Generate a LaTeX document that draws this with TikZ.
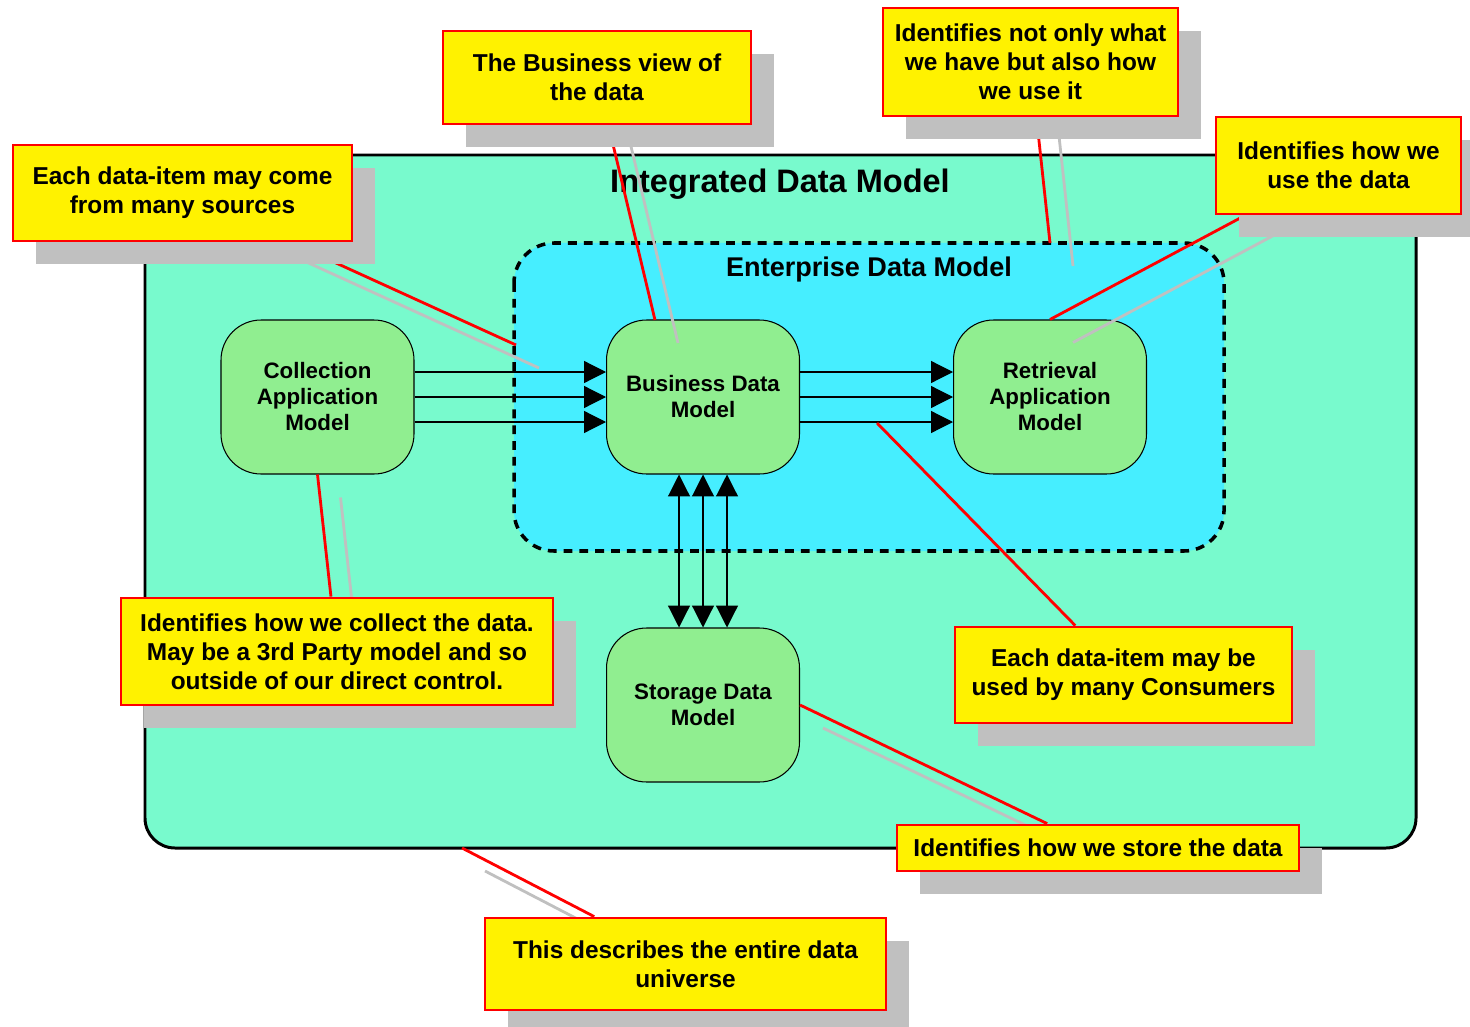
\documentclass[tikz,border=0pt]{standalone}
\usepackage{fontspec}
\setmainfont{Liberation Sans}
\usepackage{tikz}
\usetikzlibrary{arrows.meta,calc,shadows}

\definecolor{universe}{RGB}{120,250,205}
\definecolor{enterprise}{RGB}{70,238,255}
\definecolor{modelgreen}{RGB}{144,238,144}
\definecolor{shadowgray}{RGB}{192,192,192}

\pgfdeclarelayer{back}
\pgfdeclarelayer{front}
\pgfsetlayers{back,main,front}

\begin{document}
\begin{tikzpicture}[x=0.02cm,y=-0.02cm,
  model/.style={draw=black, line width=0.6pt, fill=modelgreen, rounded corners=0.8cm,
    minimum width=3.86cm, minimum height=3.08cm, align=center,
    font=\fontsize{12.7}{14.8}\selectfont\bfseries},
  callout/.style={draw=red, line width=1.6pt, fill=yellow, align=center,
    font=\fontsize{13.9}{16.5}\selectfont\bfseries,
    drop shadow={shadow xshift=0.46cm, shadow yshift=-0.46cm, fill=shadowgray, opacity=1}},
  leader/.style={red, line width=1.6pt},
  ghost/.style={shadowgray, line width=1.6pt},
  flow/.style={line width=0.7pt, -{Triangle[length=12.5pt,width=12.5pt]}},
  sync/.style={line width=0.7pt, {Triangle[length=12.5pt,width=12.5pt]}-{Triangle[length=12.5pt,width=12.5pt]}}]

\useasboundingbox (0,0) rectangle (1470,1027);

\pgfmathsetmacro{\shadowoff}{23}

% Universe and enterprise areas
\begin{pgfonlayer}{back}
  \draw[line width=1.7pt, fill=universe, rounded corners=0.6cm] (145,155) rectangle (1416,848);
  \node[font=\fontsize{18.5}{22}\selectfont\bfseries] (idm) at (780,184) {Integrated Data Model};
  \draw[line width=2pt, dash pattern=on 5pt off 4pt, fill=enterprise, rounded corners=0.8cm] (514,243) rectangle (1224,551);
  \node[font=\fontsize{15.4}{18}\selectfont\bfseries] (edm) at (869,270) {Enterprise Data Model};
\end{pgfonlayer}

% Models
\node[model] (coll) at (317.5,397) {Collection\\Application\\Model};
\node[model] (bdm) at (703,397) {Business Data\\Model};
\node[model] (ret) at (1050,397) {Retrieval\\Application\\Model};
\node[model] (sdm) at (703,705) {Storage Data\\Model};

\foreach \dy in {-25,0,25}
{
  \draw[flow] ($(coll.east)+(0,\dy)$) -- ($(bdm.west)+(0,\dy)$);
  \draw[flow] ($(bdm.east)+(0,\dy)$) -- ($(ret.west)+(0,\dy)$);
}
\foreach \dx in {-24,0,24}
  \draw[sync] ($(bdm.south)+(\dx,0)$) -- ($(sdm.north)+(\dx,0)$);

% Callouts
\begin{pgfonlayer}{front}
  \node[callout, minimum width=6.78cm, minimum height=1.92cm] (c1) at (182.5,193) {Each data-item may come\\from many sources};
  \node[callout, minimum width=6.16cm, minimum height=1.86cm] (c2) at (597,77.5) {The Business view of\\the data};
  \node[callout, minimum width=5.9cm, minimum height=2.16cm] (c3) at (1030.5,62) {Identifies not only what\\we have but also how\\we use it};
  \node[callout, minimum width=4.9cm, minimum height=1.94cm] (c4) at (1338.5,165.5) {Identifies how we\\use the data};
  \node[callout, minimum width=8.64cm, minimum height=2.14cm] (c5) at (337,651.5) {Identifies how we collect the data.\\May be a 3rd Party model and so\\outside of our direct control.};
  \node[callout, minimum width=6.74cm, minimum height=1.92cm] (c6) at (1123.5,675) {Each data-item may be\\used by many Consumers};
  \node[callout, minimum width=8.04cm, minimum height=0.92cm] (c7) at (1098,848) {Identifies how we store the data};
  \node[callout, minimum width=8.02cm, minimum height=1.84cm] (c8) at (685.5,964) {This describes the entire data\\universe};
\end{pgfonlayer}

% Leader targets
\coordinate (t1) at (516,345);
\coordinate (t2) at (655,320);
\coordinate (t3) at (1050,243);
\coordinate (t4) at (ret.north);
\coordinate (t5) at (coll.south);
\coordinate (t6) at (877,423);
\coordinate (t7) at (sdm.east);
\coordinate (t8) at (462,848);

% Leaders with their shadows
\foreach \i in {1,2,3,4,5,7,8}
  \draw[ghost] ($(t\i)+(\shadowoff,\shadowoff)$) -- ($(c\i)+(\shadowoff,\shadowoff)$);
\foreach \i in {1,...,8}
  \draw[leader] (t\i) -- (c\i);

\end{tikzpicture}
\end{document}
